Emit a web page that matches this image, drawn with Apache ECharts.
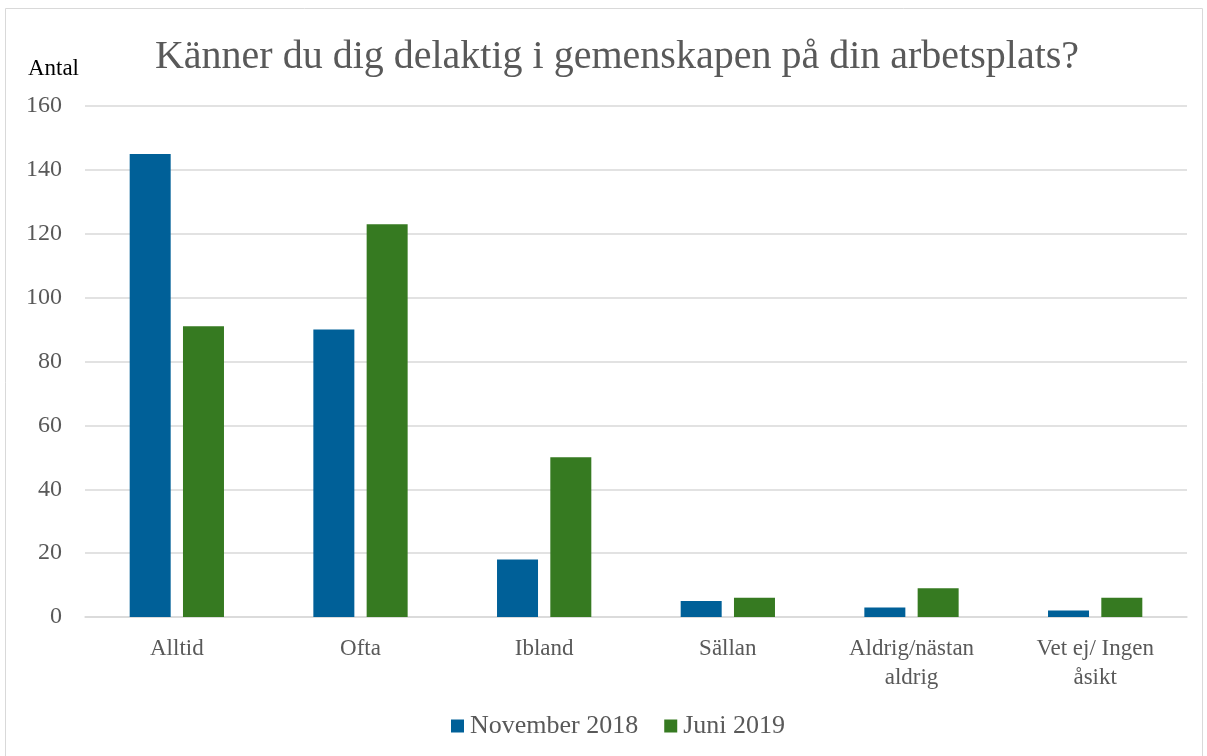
<!DOCTYPE html>
<html><head><meta charset="utf-8">
<script src="https://cdn.jsdelivr.net/npm/echarts@6/dist/echarts.min.js"></script>
<style>html,body{margin:0;padding:0;background:#fff}#c{width:1207px;height:756px}</style>
</head><body><div id="c"></div>
<script>
const categories = ['Alltid', 'Ofta', 'Ibland', 'Sällan', 'Aldrig/nästan\naldrig', 'Vet ej/ Ingen\nåsikt'];
const nov2018 = [145, 90, 18, 5, 3, 2];
const jun2019 = [91, 123, 50, 6, 9, 6];
const seriesNames = ['November 2018', 'Juni 2019'];
const titleText = 'Känner du dig delaktig i gemenskapen på din arbetsplats?';
const yAxisName = 'Antal';
const FONT = '"Liberation Serif", serif';
const chart = echarts.init(document.getElementById('c'));
chart.setOption({
  animation: false,
  textStyle: { fontFamily: FONT },
  graphic: [{ type: 'rect', shape: { x: 5.5, y: 8.5, width: 1197, height: 760 }, style: { fill: 'none', stroke: '#d9d9d9', lineWidth: 1 }, silent: true }],
  title: { text: titleText, left: 612, top: 32, textAlign: 'center',
    textStyle: { fontFamily: FONT, fontSize: 40, fontWeight: 'normal', color: '#595959' } },
  legend: { data: seriesNames, bottom: 12, left: 446, itemWidth: 13, itemHeight: 13, itemGap: 26, icon: 'rect',
    textStyle: { fontFamily: FONT, fontSize: 26, color: '#595959', padding: [0, 0, 0, 1] } },
  grid: { left: 85, right: 20, top: 106, bottom: 139, containLabel: false },
  xAxis: { type: 'category', data: categories,
    axisLine: { lineStyle: { color: '#d9d9d9', width: 1.5 } }, axisTick: { show: false },
    axisLabel: { fontFamily: FONT, fontSize: 23, color: '#595959', margin: 17, lineHeight: 29 } },
  yAxis: { type: 'value', min: 0, max: 160, interval: 20, name: yAxisName,
    nameLocation: 'end', nameGap: 26,
    nameTextStyle: { fontFamily: FONT, fontSize: 23, color: '#000', align: 'right', padding: [0, 6, 0, 0] },
    axisLine: { show: false }, axisTick: { show: false },
    splitLine: { lineStyle: { color: '#d9d9d9', width: 1.5 } },
    axisLabel: { fontFamily: FONT, fontSize: 24, color: '#595959', margin: 23 } },
  series: [
    { name: seriesNames[0], type: 'bar', data: nov2018, barWidth: 41, barGap: '30%', itemStyle: { color: '#006098' } },
    { name: seriesNames[1], type: 'bar', data: jun2019, barWidth: 41, itemStyle: { color: '#367a21' } }
  ]
});
</script></body></html>
